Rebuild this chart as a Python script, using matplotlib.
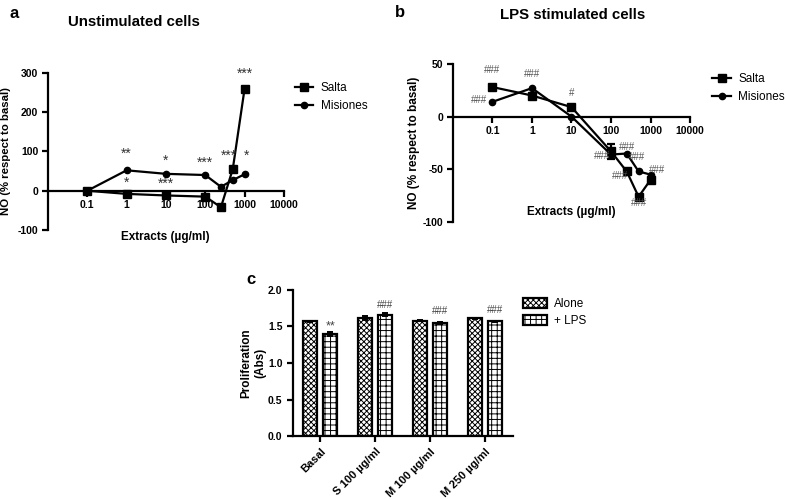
import numpy as np
import matplotlib
matplotlib.use("Agg")
from matplotlib import pyplot as plt
from matplotlib.ticker import FixedLocator, FixedFormatter, NullLocator

plt.rcParams['font.family'] = ['Liberation Sans', 'DejaVu Sans']
plt.rcParams['hatch.linewidth'] = 0.7
plt.rcParams['axes.unicode_minus'] = False

# doses (ug/ml)
doses = [0.1, 1, 10, 100, 250, 500, 1000]

# panel a - unstimulated
salta_a = [0, -8, -12, -15, -42, 55, 260]
misiones_a = [0, 52, 43, 40, 10, 27, 42]
stars_a = [(1, 93, "**"), (1, 20, "*"), (10, 76, "*"), (10, 18, "***"),
           (100, 72, "***"), (400, 88, "***"), (1150, 88, "*"), (1000, 298, "***")]

# panel b - LPS stimulated
salta_b = [28, 20, 9, -33, -52, -76, -60]
salta_b_err = [0, 0, 0, 7, 0, 0, 0]
misiones_b = [14, 27, 0, -36, -35, -52, -55]
hash_b = [(0.1, 44, "###"), (0.045, 16, "###"), (1, 40, "###"), (10, 22, "#"),
          (60, -37, "###"), (260, -29, "###"), (450, -38, "###"),
          (170, -56, "###"), (500, -82, "###"), (1500, -51, "###")]

# panel c - proliferation
groups = ["Basal", "S 100 \u00b5g/ml", "M 100 \u00b5g/ml", "M 250 \u00b5g/ml"]
alone = [1.57, 1.62, 1.58, 1.61]
alone_err = [0.01, 0.03, 0.01, 0.01]
lps = [1.40, 1.66, 1.55, 1.57]
lps_err = [0.03, 0.02, 0.01, 0.01]
marks_c = ["**", "###", "###", "###"]
marks_c_y = [1.50, 1.79, 1.71, 1.73]

dose_ticks = [0.1, 1, 10, 100, 1000, 10000]
dose_labels = ["0.1", "1", "10", "100", "1000", "10000"]

fig = plt.figure(figsize=(7.85, 4.99), dpi=100)


def style_dose_axis(ax, ylim, yticks):
    ax.set_xscale('log')
    ax.set_xlim(0.01, 10000)
    ax.set_ylim(*ylim)
    ax.spines['top'].set_visible(False)
    ax.spines['right'].set_visible(False)
    ax.spines['bottom'].set_position(('data', 0))
    ax.spines['bottom'].set_linewidth(1.6)
    ax.spines['left'].set_linewidth(1.6)
    ax.xaxis.set_major_locator(FixedLocator(dose_ticks))
    ax.xaxis.set_major_formatter(FixedFormatter(dose_labels))
    ax.xaxis.set_minor_locator(NullLocator())
    ax.set_yticks(yticks)
    ax.tick_params(width=1.6, length=4, labelsize=7.5, pad=3)
    for lab in ax.get_xticklabels() + ax.get_yticklabels():
        lab.set_fontweight('bold')


# ---- a ----
ax1 = fig.add_axes([0.0611, 0.539, 0.3006, 0.315])
style_dose_axis(ax1, (-100, 300), [-100, 0, 100, 200, 300])
ax1.plot(doses, salta_a, '-s', color='black', lw=1.6, ms=5.5, label='Salta')
ax1.plot(doses, misiones_a, '-o', color='black', lw=1.6, ms=4.5, label='Misiones')
for x, y, s in stars_a:
    ax1.text(x, y, s, ha='center', va='center', fontsize=10, color='#333333')
ax1.set_ylabel("NO (% respect to basal)", fontsize=8.2, fontweight='bold')
ax1.yaxis.set_label_coords(-0.155, 0.5)
ax1.text(0.496, -0.045, "Extracts (\u00b5g/ml)", transform=ax1.transAxes,
         ha='center', va='center', fontsize=8.5, fontweight='bold')
ax1.legend(loc='upper left', bbox_to_anchor=(1.0, 1.01), frameon=False,
           fontsize=8.5, handlelength=1.6, handletextpad=0.6, labelspacing=0.5)
fig.text(0.012, 0.972, "a", fontsize=12, fontweight='bold', va='center')
fig.text(0.086, 0.955, "Unstimulated cells", fontsize=10.8, fontweight='bold', va='center')

# ---- b ----
ax2 = fig.add_axes([0.577, 0.555, 0.302, 0.317])
style_dose_axis(ax2, (-100, 50), [-100, -50, 0, 50])
eb = ax2.errorbar(doses, salta_b, yerr=salta_b_err, fmt='-s', color='black', lw=1.6,
                  ms=5.5, capsize=3, elinewidth=1.6, capthick=1.6)
ln, = ax2.plot(doses, misiones_b, '-o', color='black', lw=1.6, ms=4.5)
for x, y, s in hash_b:
    ax2.text(x, y, s, ha='center', va='center', fontsize=7, color='#555555')
ax2.set_ylabel("NO (% respect to basal)", fontsize=8.5, fontweight='bold')
ax2.yaxis.set_label_coords(-0.14, 0.5)
ax2.text(0.50, 0.063, "Extracts (\u00b5g/ml)", transform=ax2.transAxes,
         ha='center', va='center', fontsize=8.5, fontweight='bold')
ax2.legend([eb.lines[0], ln], ['Salta', 'Misiones'], loc='upper left',
           bbox_to_anchor=(1.05, 1.01), frameon=False,
           fontsize=8.5, handlelength=1.6, handletextpad=0.6, labelspacing=0.5)
fig.text(0.503, 0.975, "b", fontsize=12, fontweight='bold', va='center')
fig.text(0.637, 0.97, "LPS stimulated cells", fontsize=10.8, fontweight='bold', va='center')

# ---- c ----
ax3 = fig.add_axes([0.373, 0.126, 0.280, 0.293])
pos = np.arange(len(groups))
w = 0.255
ax3.bar(pos - 0.18, alone, w, yerr=alone_err, color='white', edgecolor='black',
        hatch='xxxxxx', lw=1.6, capsize=2, error_kw=dict(lw=1.4, capthick=1.4),
        label='Alone')
ax3.bar(pos + 0.18, lps, w, yerr=lps_err, color='white', edgecolor='black',
        hatch='+++', lw=1.6, capsize=2, error_kw=dict(lw=1.4, capthick=1.4),
        label='+ LPS')
for i, s in enumerate(marks_c):
    ax3.text(pos[i] + 0.18, marks_c_y[i], s, ha='center', va='center',
             fontsize=9 if s == "**" else 7, color='#444444')
ax3.set_xlim(-0.5, 3.5)
ax3.set_ylim(0, 2.0)
ax3.set_yticks([0.0, 0.5, 1.0, 1.5, 2.0])
ax3.set_yticklabels(["0.0", "0.5", "1.0", "1.5", "2.0"])
ax3.set_xticks(pos)
ax3.set_xticklabels(groups, rotation=45, ha='right', rotation_mode='anchor')
ax3.spines['top'].set_visible(False)
ax3.spines['right'].set_visible(False)
ax3.spines['bottom'].set_linewidth(1.6)
ax3.spines['left'].set_linewidth(1.6)
ax3.tick_params(width=1.6, length=4, labelsize=7.5)
ax3.tick_params(axis='x', labelsize=8)
for lab in ax3.get_xticklabels() + ax3.get_yticklabels():
    lab.set_fontweight('bold')
ax3.set_ylabel("Proliferation\n(Abs)", fontsize=8.5, fontweight='bold')
ax3.yaxis.set_label_coords(-0.12, 0.5)
ax3.legend(loc='upper left', bbox_to_anchor=(1.0, 1.02), frameon=False,
           fontsize=8.5, handlelength=2.0, handleheight=1.0, handletextpad=0.6,
           labelspacing=0.4)
fig.text(0.314, 0.44, "c", fontsize=12, fontweight='bold', va='center')

fig.savefig("out.png", dpi=100)
